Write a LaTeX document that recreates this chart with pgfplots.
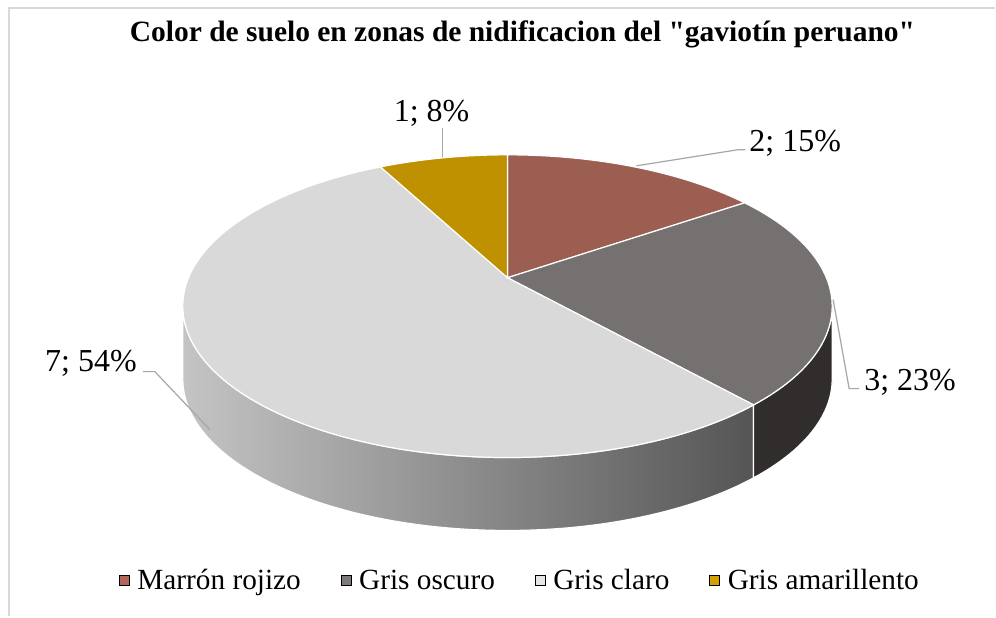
\documentclass[border=0pt]{standalone}
\usepackage{fontspec}
\setmainfont{Liberation Serif}
\usepackage{pgfplots}
\usepackage{pgfplotstable}
\pgfplotsset{compat=1.18}

\definecolor{cMar}{HTML}{9C5E50}
\definecolor{cOsc}{HTML}{767171}
\definecolor{cCla}{HTML}{D9D9D9}
\definecolor{cAma}{HTML}{BF9000}
\definecolor{lMar}{HTML}{B0675A}
\definecolor{lOsc}{HTML}{7F7A7A}
\definecolor{lCla}{HTML}{E6E6E6}
\definecolor{lAma}{HTML}{D4A000}
\definecolor{wOsc}{HTML}{312D2D}
\definecolor{wClaL}{HTML}{C4C4C4}
\definecolor{wClaM}{HTML}{7D7D7D}
\definecolor{wClaR}{HTML}{555555}
\definecolor{leadc}{HTML}{A6A6A6}
\definecolor{framec}{HTML}{D9D9D9}

\pgfplotstableread{
id value
1 2
2 3
3 7
4 1
}\piedata

\begin{document}
\begin{tikzpicture}
\pgfplotstablegetelem{0}{value}\of\piedata \edef\va{\pgfplotsretval}
\pgfplotstablegetelem{1}{value}\of\piedata \edef\vb{\pgfplotsretval}
\pgfplotstablegetelem{2}{value}\of\piedata \edef\vc{\pgfplotsretval}
\pgfplotstablegetelem{3}{value}\of\piedata \edef\vd{\pgfplotsretval}
\pgfmathsetmacro\tot{\va+\vb+\vc+\vd}
\def\k{0.188}
\pgfmathsetmacro\sq{sqrt(1-\k*\k)}
\pgfmathsetmacro\tB{360*\va/\tot}
\pgfmathsetmacro\tC{360*(\va+\vb)/\tot}
\pgfmathsetmacro\tD{360*(\va+\vb+\vc)/\tot}
\pgfmathsetmacro\aB{atan2(cos(\tB)+\k, sin(\tB)*\sq)}
\pgfmathsetmacro\aC{atan2(cos(\tC)+\k, sin(\tC)*\sq)}
\pgfmathsetmacro\aD{atan2(cos(\tD)+\k, sin(\tD)*\sq)}
\pgfmathsetmacro\aDm{\aD-360}
\def\ex{508}\def\ey{310.5}\def\ea{325}\def\eb{151.5}
\def\cx{508}\def\cy{339}
\pgfmathsetmacro\xA{\ex}\pgfmathsetmacro\yA{\ey+\eb}
\pgfmathsetmacro\xB{\ex+\ea*cos(\aB)}\pgfmathsetmacro\yB{\ey+\eb*sin(\aB)}
\pgfmathsetmacro\xC{\ex+\ea*cos(\aC)}\pgfmathsetmacro\yC{\ey+\eb*sin(\aC)}
\pgfmathsetmacro\xD{\ex+\ea*cos(\aD)}\pgfmathsetmacro\yD{\ey+\eb*sin(\aD)}
\pgfmathsetmacro\xR{\ex+\ea}
\pgfmathtruncatemacro\pa{round(100*\va/\tot)}
\pgfmathtruncatemacro\pb{round(100*\vb/\tot)}
\pgfmathtruncatemacro\pc{round(100*\vc/\tot)}
\pgfmathtruncatemacro\pd{round(100*\vd/\tot)}
\begin{axis}[
  x=1pt, y=1pt, xmin=0, xmax=996, ymin=0, ymax=617,
  hide axis, clip=false,
  legend columns=4,
  legend style={at={(axis cs:116,36)}, anchor=west, draw=none, fill=none,
    font=\fontsize{29.3}{34}\selectfont,
    nodes={inner sep=0pt},
    /tikz/every odd column/.append style={column sep=8pt},
    /tikz/every even column/.append style={column sep=40pt},
    cells={anchor=west}},
  legend image code/.code={\fill[#1] (0pt,-5pt) rectangle (10pt,5pt);},
]
\fill[white] (axis cs:0,0) rectangle (axis cs:996,617);
\draw[framec, line width=2pt] (axis cs:9,0) -- (axis cs:9,609) -- (axis cs:996,609);

% side walls
\shadedraw[left color=wClaL, middle color=wClaM, right color=wClaR, draw=white, line width=1.2pt]
  (axis cs:\xC,\yC) arc[start angle=\aC, end angle=-180, x radius=\ea pt, y radius=\eb pt]
  -- ++(0pt,-73pt) arc[start angle=-180, end angle=\aC, x radius=\ea pt, y radius=\eb pt] -- cycle;
\filldraw[fill=wOsc, draw=white, line width=1.2pt]
  (axis cs:\xR,\ey) arc[start angle=0, end angle=\aC, x radius=\ea pt, y radius=\eb pt]
  -- ++(0pt,-73pt) arc[start angle=\aC, end angle=0, x radius=\ea pt, y radius=\eb pt] -- cycle;

% top faces
\filldraw[fill=cMar, draw=white, line width=1.2pt]
  (axis cs:\cx,\cy) -- (axis cs:\xA,\yA) arc[start angle=90, end angle=\aB, x radius=\ea pt, y radius=\eb pt] -- cycle;
\filldraw[fill=cOsc, draw=white, line width=1.2pt]
  (axis cs:\cx,\cy) -- (axis cs:\xB,\yB) arc[start angle=\aB, end angle=\aC, x radius=\ea pt, y radius=\eb pt] -- cycle;
\filldraw[fill=cCla, draw=white, line width=1.2pt]
  (axis cs:\cx,\cy) -- (axis cs:\xC,\yC) arc[start angle=\aC, end angle=\aDm, x radius=\ea pt, y radius=\eb pt] -- cycle;
\filldraw[fill=cAma, draw=white, line width=1.2pt]
  (axis cs:\cx,\cy) -- (axis cs:\xD,\yD) arc[start angle=\aD, end angle=90, x radius=\ea pt, y radius=\eb pt] -- cycle;

% leader lines
\draw[leadc, line width=1.2pt] (axis cs:443,460) -- (axis cs:443,489);
\draw[leadc, line width=1.2pt] (axis cs:637,451) -- (axis cs:738,467) -- (axis cs:746,467);
\draw[leadc, line width=1.2pt] (axis cs:834,317) -- (axis cs:850,228) -- (axis cs:860,228);
\draw[leadc, line width=1.2pt] (axis cs:210,187) -- (axis cs:155,245) -- (axis cs:143,245);

% data labels
\begin{scope}[font=\fontsize{32}{38}\selectfont]
\node[anchor=base, inner sep=0pt] at (axis cs:432,495) {\vd; \pd\%};
\node[anchor=base, inner sep=0pt] at (axis cs:796,465) {\va; \pa\%};
\node[anchor=base, inner sep=0pt] at (axis cs:911,226) {\vb; \pb\%};
\node[anchor=base, inner sep=0pt] at (axis cs:91,245) {\vc; \pc\%};
\end{scope}

% title
\node[anchor=base, inner sep=0pt, font=\fontsize{29.5}{34}\selectfont\bfseries] at (axis cs:523,575)
  {Color de suelo en zonas de nidificacion del \textquotedbl gaviotín peruano\textquotedbl};

\addlegendimage{fill=lMar}\addlegendentry{Marrón rojizo}
\addlegendimage{fill=lOsc}\addlegendentry{Gris oscuro}
\addlegendimage{fill=lCla}\addlegendentry{Gris claro}
\addlegendimage{fill=lAma}\addlegendentry{Gris amarillento}
\end{axis}
\end{tikzpicture}
\end{document}
